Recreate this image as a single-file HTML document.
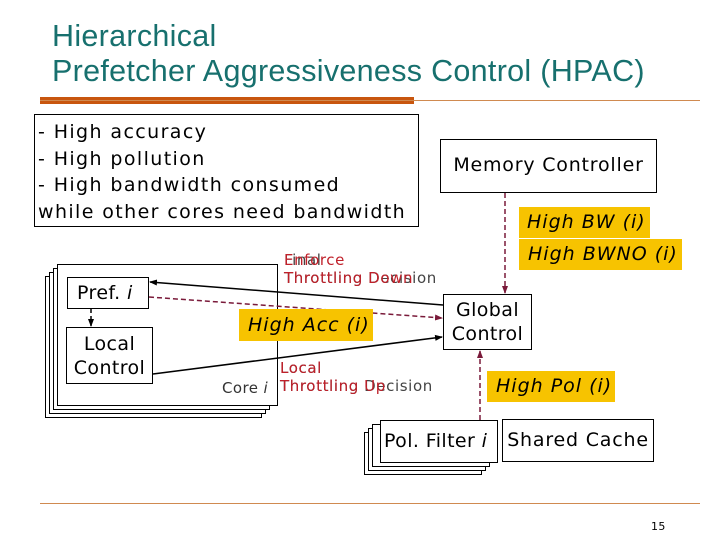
<!DOCTYPE html><html><head><style>
body{margin:0;width:720px;height:540px;background:#fff;position:relative;overflow:hidden;font-family:"DejaVu Sans","Liberation Sans",sans-serif;letter-spacing:0.4px}
.a{position:absolute}
.b{position:absolute;border:1.5px solid #000;background:#fff;box-sizing:border-box}
.y{position:absolute;background:#f7c300;font-style:italic;font-size:19px;box-sizing:border-box;white-space:nowrap;letter-spacing:1px}
</style></head><body>
<div class="a" style="left:52px;top:19px;font-family:'Liberation Sans',sans-serif;font-size:30.5px;color:#17706e;line-height:35px;letter-spacing:0.3px">Hierarchical<br>Prefetcher Aggressiveness Control (HPAC)</div>
<div class="a" style="left:40px;top:97px;width:374px;height:7px;background:#c8560e"></div>
<div class="a" style="left:40px;top:100px;width:660px;height:1px;background:#d08a50"></div>
<div class="a" style="left:40px;top:503px;width:660px;height:1px;background:#d08a50"></div>
<div class="a" style="left:651px;top:520px;font-size:11px">15</div>

<div class="b" style="left:34px;top:114px;width:385px;height:113px;font-size:19px;line-height:26.5px;padding:4px 0 0 3px;white-space:nowrap;letter-spacing:1.4px">- High accuracy<br>- High pollution<br>- High bandwidth consumed<br>while other cores need bandwidth</div>

<div class="b" style="left:45px;top:276px;width:217px;height:142px"></div>
<div class="b" style="left:49px;top:272px;width:217px;height:142px"></div>
<div class="b" style="left:53px;top:268px;width:217px;height:142px"></div>
<div class="b" style="left:57px;top:264px;width:221px;height:142px"></div>
<div class="b" style="left:67px;top:277px;width:82px;height:32px;font-size:19px;padding:4px 0 0 9px">Pref. <i>i</i></div>
<div class="b" style="left:66px;top:327px;width:87px;height:57px;font-size:19px;text-align:center;line-height:24px;padding-top:4px">Local<br>Control</div>
<div class="a" style="left:222px;top:379px;font-size:15px;color:#333">Core <i>i</i></div>

<div class="b" style="left:440px;top:139px;width:217px;height:54px;font-size:19px;text-align:center;line-height:50px;letter-spacing:0.8px">Memory Controller</div>
<div class="b" style="left:443px;top:294px;width:89px;height:56px;font-size:19px;text-align:center;line-height:24px;padding-top:3px">Global<br>Control</div>
<div class="b" style="left:364px;top:432px;width:118px;height:43px"></div>
<div class="b" style="left:368px;top:428px;width:118px;height:43px"></div>
<div class="b" style="left:372px;top:424px;width:118px;height:43px"></div>
<div class="b" style="left:380px;top:420px;width:118px;height:43px;font-size:19px;line-height:40px;padding-left:3px">Pol. Filter <i>i</i></div>
<div class="b" style="left:502px;top:419px;width:152px;height:43px;font-size:19px;line-height:40px;text-align:center;letter-spacing:0.8px">Shared Cache</div>

<svg class="a" style="left:0;top:0" width="720" height="540">
<defs><marker id="k" markerWidth="8" markerHeight="8" refX="7" refY="4" orient="auto" markerUnits="userSpaceOnUse"><path d="M0,1 L8,4 L0,7z" fill="#000"/></marker>
<marker id="m" markerWidth="8" markerHeight="8" refX="7" refY="4" orient="auto" markerUnits="userSpaceOnUse"><path d="M0,1 L8,4 L0,7z" fill="#7a1a3a"/></marker></defs>
<line x1="443" y1="305" x2="150" y2="282" stroke="#000" stroke-width="1.5" marker-end="url(#k)"/>
<line x1="149" y1="297" x2="442" y2="318" stroke="#7a1a3a" stroke-width="1.5" stroke-dasharray="5,3" marker-end="url(#m)"/>
<line x1="153" y1="374" x2="442" y2="337" stroke="#000" stroke-width="1.5" marker-end="url(#k)"/>
<line x1="505" y1="193" x2="505" y2="293" stroke="#7a1a3a" stroke-width="1.5" stroke-dasharray="5,3" marker-end="url(#m)"/>
<line x1="480" y1="420" x2="480" y2="351" stroke="#7a1a3a" stroke-width="1.5" stroke-dasharray="5,3" marker-end="url(#m)"/>
<line x1="91" y1="309" x2="91" y2="326" stroke="#000" stroke-width="1.5" stroke-dasharray="4,3" marker-end="url(#k)"/>
</svg>

<div class="y" style="left:239px;top:309px;width:134px;height:32px;padding:5px 0 0 9px">High Acc (i)</div>
<div class="y" style="left:519px;top:207px;width:131px;height:31px;padding:4px 0 0 8px">High BW (i)</div>
<div class="y" style="left:519px;top:239px;width:163px;height:31px;padding:4px 0 0 9px">High BWNO (i)</div>
<div class="y" style="left:487px;top:371px;width:128px;height:31px;padding:4px 0 0 9px">High Pol (i)</div>

<div class="a" style="left:284px;top:251px;font-size:15px;line-height:18px;color:#444;letter-spacing:0.6px">Final<br>Throttling Decision</div>
<div class="a" style="left:284px;top:251px;font-size:15px;line-height:18px;color:#c0202a;letter-spacing:0.6px">Enforce<br>Throttling Down</div>
<div class="a" style="left:280px;top:359px;font-size:15px;line-height:18px;color:#444;letter-spacing:0.6px">Local<br>Throttling Decision</div>
<div class="a" style="left:280px;top:359px;font-size:15px;line-height:18px;color:#c0202a;letter-spacing:0.6px">Local<br>Throttling Up</div>
</body></html>
